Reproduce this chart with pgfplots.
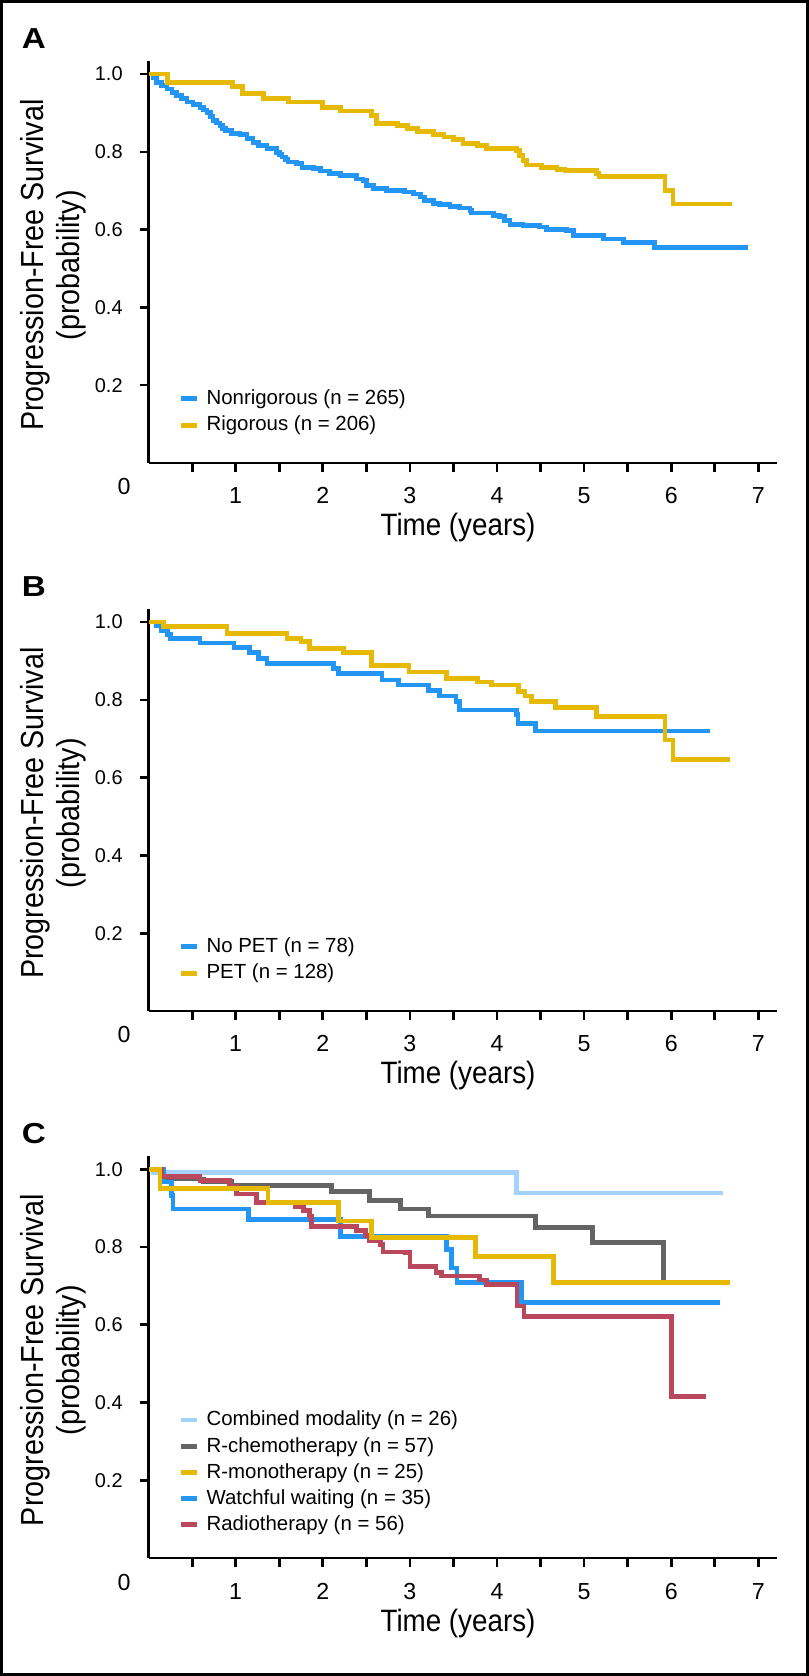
\documentclass[border=0pt]{standalone}
\usepackage{fontspec}
\setmainfont{Liberation Sans}
\newfontfamily\condensed{Liberation Sans}[FakeStretch=0.9]
\newfontfamily\panelfont{Liberation Sans}[FakeStretch=1.15]
\usepackage{pgfplots}
\pgfplotsset{compat=1.18}

\definecolor{cBlue}{RGB}{35,150,245}
\definecolor{cGold}{RGB}{230,185,5}
\definecolor{cLight}{RGB}{165,210,250}
\definecolor{cGray}{RGB}{100,100,100}
\definecolor{cRed}{RGB}{185,72,92}

\tikzset{panel/.style={font=\panelfont\bfseries\fontsize{14.5}{16}\selectfont}}

\pgfplotsset{
  km/.style={
    scale only axis, width=314bp, height=201bp,
    xmin=0, xmax=7.21, ymin=0, ymax=1.034,
    axis lines*=left, axis line style={line width=1.35bp, -},
    tick style={line width=1.35bp, black},
    tick align=outside, major tick length=4.5bp, minor tick length=4.5bp,
    xtick={1,...,7}, minor xtick={0.5,1.5,...,6.5},
    ytick={0.2,0.4,0.6,0.8,1.0},
    y tick label style={/pgf/number format/.cd, fixed, fixed zerofill, precision=1, /tikz/.cd},
    /pgf/number format/assume math mode=true,
    xticklabel style={font=\fontsize{11.65}{13}\selectfont, anchor=base, inner sep=0pt, yshift=-16bp},
    yticklabel style={font=\fontsize{10}{12}\selectfont, anchor=east, inner sep=0pt, xshift=-8.3bp},
    extra x ticks={0}, extra x tick labels={0},
    extra x tick style={major tick length=0pt, xticklabel style={xshift=-12.2bp}},
    xlabel={Time (years)},
    xlabel style={font=\condensed\fontsize{15.5}{18}\selectfont, at={(axis description cs:0.4927,-0.1818)}, anchor=base},
    ylabel={Progression-Free Survival\\(probability)},
    ylabel style={font=\condensed\fontsize{16}{18.3}\selectfont, align=center, at={(axis description cs:-0.1522,0.492)}, anchor=center},
    clip=false,
    legend cell align=left,
    legend style={draw=none, fill=none, font=\fontsize{10.25}{12}\selectfont,
      inner sep=0pt, row sep=2.4bp, column sep=3.75bp,
      nodes={inner sep=0pt, text height=8.3bp, text depth=2.5bp},
      at={(axis description cs:0.0473,0.066)}, anchor=south west},
    legend image code/.code={\draw[#1, line width=2.35bp] (0bp,0bp) -- (7.85bp,0bp);},
    every axis plot/.append style={const plot, line width=2.35bp},
  },
}

\begin{document}
\begin{tikzpicture}
\path[use as bounding box] (0bp,0bp) rectangle (404.5bp,-838bp);
\draw[line width=1.5bp] (0.75bp,-0.75bp) rectangle (403.75bp,-837.25bp);

% ---------------- A ----------------
\begin{axis}[km, at={(74.3bp,-231.45bp)}, anchor=south west]
\addplot[cBlue] coordinates {
(0,1.0)(0.05,0.99)(0.09,0.979)(0.15,0.970)(0.21,0.962)(0.27,0.953)(0.32,0.945)
(0.38,0.937)(0.44,0.928)(0.51,0.922)(0.59,0.915)(0.63,0.908)(0.67,0.902)
(0.71,0.891)(0.74,0.881)(0.78,0.874)(0.82,0.868)(0.85,0.861)(0.88,0.855)
(0.95,0.847)(1.05,0.845)(1.13,0.834)(1.20,0.825)(1.26,0.817)(1.36,0.808)
(1.47,0.799)(1.50,0.793)(1.53,0.787)(1.57,0.780)(1.60,0.774)(1.70,0.770)
(1.76,0.759)(1.89,0.757)(1.97,0.751)(2.08,0.745)(2.20,0.740)(2.39,0.730)
(2.46,0.727)(2.50,0.714)(2.58,0.705)(2.73,0.701)(2.94,0.697)(3.04,0.692)
(3.12,0.684)(3.17,0.675)(3.27,0.668)(3.34,0.665)(3.46,0.660)(3.57,0.656)
(3.69,0.650)(3.71,0.643)(3.96,0.637)(4.03,0.634)(4.09,0.624)(4.15,0.614)
(4.30,0.611)(4.49,0.607)(4.57,0.600)(4.80,0.598)(4.88,0.585)(5.22,0.576)
(5.45,0.567)(5.81,0.554)(6.88,0.554)};
\addlegendentry{Nonrigorous (n = 265)}
\addplot[cGold] coordinates {
(0,1.0)(0.22,0.978)(0.96,0.969)(1.08,0.950)(1.32,0.937)(1.61,0.928)(2.00,0.914)
(2.20,0.905)(2.56,0.894)(2.62,0.873)(2.86,0.868)(2.97,0.861)(3.09,0.852)
(3.27,0.845)(3.39,0.838)(3.50,0.831)(3.61,0.821)(3.78,0.817)(3.88,0.808)
(4.22,0.804)(4.26,0.790)(4.30,0.777)(4.34,0.766)(4.51,0.759)(4.69,0.755)
(4.78,0.752)(5.14,0.745)(5.17,0.736)(5.93,0.700)(6.02,0.666)(6.70,0.666)};
\addlegendentry{Rigorous (n = 206)}
\node[panel] at (axis description cs:-0.1825,1.056) {A};
\end{axis}

% ---------------- B ----------------
\begin{axis}[km, at={(74.3bp,-505.45bp)}, anchor=south west]
\addplot[cBlue] coordinates {
(0,1.0)(0.09,0.990)(0.15,0.979)(0.22,0.968)(0.25,0.957)(0.59,0.946)(0.98,0.934)
(1.16,0.921)(1.26,0.906)(1.36,0.893)(2.12,0.880)(2.18,0.867)(2.68,0.851)
(2.87,0.838)(3.21,0.825)(3.34,0.810)(3.53,0.795)(3.57,0.774)(4.22,0.762)
(4.24,0.740)(4.44,0.720)(6.44,0.720)};
\addlegendentry{No PET (n = 78)}
\addplot[cGold] coordinates {
(0,1.0)(0.17,0.989)(0.90,0.970)(1.59,0.957)(1.75,0.950)(1.85,0.932)(2.24,0.921)
(2.56,0.889)(2.99,0.872)(3.42,0.855)(3.78,0.846)(3.94,0.838)(4.25,0.822)
(4.32,0.810)(4.40,0.795)(4.67,0.780)(5.14,0.757)(5.93,0.697)(6.02,0.646)
(6.67,0.646)};
\addlegendentry{PET (n = 128)}
\node[panel] at (axis description cs:-0.1825,1.056) {B};
\end{axis}

% ---------------- C ----------------
\begin{axis}[km, at={(74.3bp,-779bp)}, anchor=south west,
  legend style={at={(axis description cs:0.0473,0.0547)}, row sep=2.3bp}]
\addlegendimage{cLight, line width=2.35bp}
\addlegendentry{Combined modality (n = 26)}
\addlegendimage{cGray, line width=2.35bp}
\addlegendentry{R-chemotherapy (n = 57)}
\addlegendimage{cGold, line width=2.35bp}
\addlegendentry{R-monotherapy (n = 25)}
\addlegendimage{cBlue, line width=2.35bp}
\addlegendentry{Watchful waiting (n = 35)}
\addlegendimage{cRed, line width=2.35bp}
\addlegendentry{Radiotherapy (n = 56)}
\addplot[cLight, forget plot] coordinates {
(0,1.0)(0.05,0.992)(4.22,0.939)(6.60,0.939)};
\addplot[cGray, forget plot] coordinates {
(0,1.0)(0.15,0.975)(0.63,0.968)(0.95,0.959)(2.10,0.942)(2.54,0.919)(2.89,0.898)
(3.21,0.880)(4.44,0.850)(5.10,0.812)(5.91,0.713)};
\addplot[cBlue, forget plot] coordinates {
(0,1.0)(0.17,0.967)(0.26,0.932)(0.28,0.898)(1.15,0.870)(2.20,0.827)(3.42,0.793)
(3.48,0.746)(3.54,0.708)(4.28,0.657)(6.56,0.657)};
\addplot[cRed, forget plot] coordinates {
(0,1.0)(0.15,0.982)(0.59,0.971)(0.93,0.955)(1.01,0.936)(1.24,0.915)(1.68,0.905)
(1.78,0.893)(1.85,0.880)(1.87,0.853)(2.39,0.842)(2.49,0.830)(2.54,0.816)
(2.66,0.807)(2.69,0.787)(2.95,0.785)(3.00,0.750)(3.30,0.735)(3.36,0.725)
(3.80,0.715)(3.88,0.704)(4.23,0.648)(4.31,0.622)(6.00,0.416)(6.40,0.416)};
\addplot[cGold, forget plot] coordinates {
(0,1.0)(0.13,0.951)(1.37,0.915)(2.18,0.867)(2.56,0.824)(3.75,0.775)(4.65,0.708)
(6.67,0.708)};
\node[panel] at (axis description cs:-0.1825,1.056) {C};
\end{axis}
\end{tikzpicture}
\end{document}
